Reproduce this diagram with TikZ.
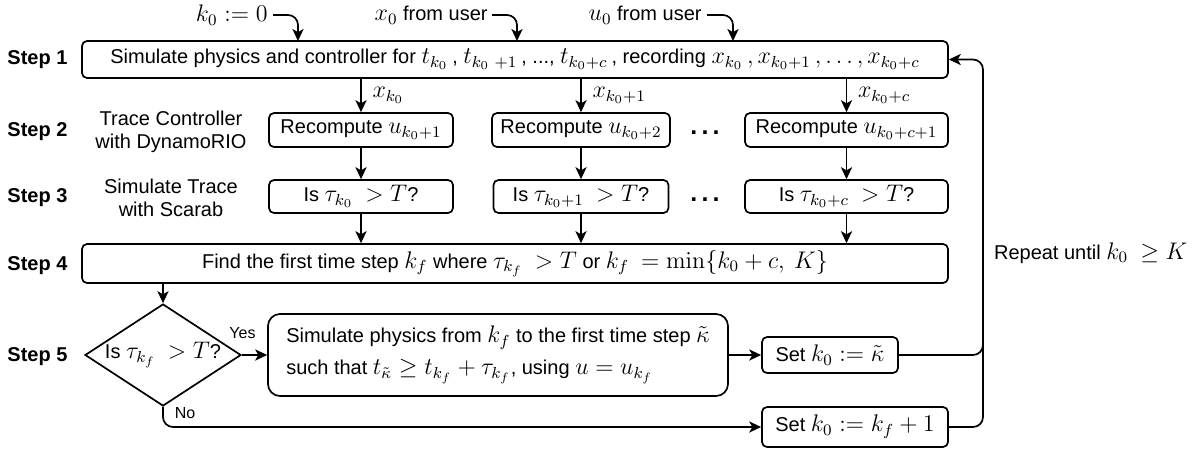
\documentclass[tikz,border=0pt]{standalone}
\usepackage[no-math]{fontspec}
\setmainfont{Liberation Sans}
\DeclareMathSizes{10}{12}{8.4}{6}
\usetikzlibrary{arrows.meta,shapes.geometric}
\begin{document}
\begin{tikzpicture}[x=0.5pt,y=-0.5pt,
  every node/.style={font=\fontsize{10}{12}\selectfont},
  box/.style={draw,line width=0.85pt,rounded corners=2.5pt,inner sep=1pt,align=center},
  arr/.style={-{Stealth[length=6pt,width=5.6pt,inset=1.6pt]},line width=0.85pt},
  link/.style={line width=0.85pt},
  stp/.style={font=\bfseries\fontsize{10}{12}\selectfont},
  side/.style={align=center,font=\fontsize{10}{11.5}\selectfont},
  dotsn/.style={font=\bfseries\fontsize{12.5}{12}\selectfont},
  small/.style={font=\fontsize{8}{10}\selectfont}]
\useasboundingbox (0,0) rectangle (1204,450);

% step labels
\node[stp] (l1) at (37.5,60) {Step 1};
\node[stp] (l2) at (37.5,132) {Step 2};
\node[stp] (l3) at (37.5,198) {Step 3};
\node[stp] (l4) at (37.5,266) {Step 4};
\node[stp] (l5) at (37.5,357) {Step 5};
\node[side] (d2) at (171,131.5) {Trace Controller\\with DynamoRIO};
\node[side] (d3) at (171,197.5) {Simulate Trace\\with Scarab};

% step 1
\node[box,minimum width=433pt,minimum height=18.5pt] (s1) at (515,59.5)
  {Simulate physics and controller for $t_{k_0}\,$, $t_{k_0\ +1}\,$, ..., $t_{k_0+c}\,$, recording $x_{k_0}\,, x_{k_0+1}\,, \ldots, x_{k_0+c}$};

% inputs
\node[anchor=east,inner sep=0pt] (kin) at (268,15) {$k_0 := 0$};
\node[anchor=east,inner sep=0pt] (xin) at (488,15) {$x_0$ from user};
\node[anchor=east,inner sep=0pt] (uin) at (702,15) {$u_0$ from user};
\coordinate (kt) at (298,41);
\coordinate (xt) at (517,41);
\coordinate (ut) at (733,41);
\draw[arr,rounded corners=5pt] ([xshift=2.5pt]kin.east) -| (kt);
\draw[arr,rounded corners=5pt] ([xshift=2pt]xin.east) -| (xt);
\draw[arr,rounded corners=5pt] ([xshift=2.5pt]uin.east) -| (ut);

% step 2
\node[box,minimum width=92pt,minimum height=17pt] (r1) at (361,130) {Recompute $u_{k_0+1}$};
\node[box,minimum width=89pt,minimum height=17pt] (r2) at (581,130) {Recompute $u_{k_0+2}$};
\node[box,minimum width=101.5pt,minimum height=17pt] (r3) at (846.5,130) {Recompute $u_{k_0+c+1}$};
\node[dotsn] (e2) at (705,133) {.\,.\,.};

% step 3
\node[box,minimum width=92pt,minimum height=16.5pt] (q1) at (361,196.5) {Is $\tau_{k_0}\ > T$?};
\node[box,minimum width=87.5pt,minimum height=16.5pt] (q2) at (581,196.5) {Is $\tau_{k_0+1}\ > T$?};
\node[box,minimum width=101.5pt,minimum height=16.5pt] (q3) at (846.5,196.5) {Is $\tau_{k_0+c}\ > T$?};
\node[dotsn] (e3) at (705,200) {.\,.\,.};

\draw[arr] (s1.south -| r1.north) -- (r1.north) node[midway,right=2pt] {$x_{k_0}$};
\draw[arr] (s1.south -| r2.north) -- (r2.north) node[midway,right=2pt] {$x_{k_0+1}$};
\draw[arr] (s1.south -| r3.north) -- (r3.north) node[midway,right=2pt] {$x_{k_0+c}$};
\draw[arr] (r1.south) -- (q1.north);
\draw[arr] (r2.south) -- (q2.north);
\draw[arr] (r3.south) -- (q3.north);

% step 4
\node[box,minimum width=433pt,minimum height=19.5pt] (s4) at (515,263.5)
  {Find the first time step $k_f$ where $\tau_{k_f}\ > T$ or $k_f\ = \min\{k_0+c,\ K\}$};
\draw[arr] (q1.south) -- (q1.south |- s4.north);
\draw[arr] (q2.south) -- (q2.south |- s4.north);
\draw[arr] (q3.south) -- (q3.south |- s4.north);

% step 5
\node[draw,line width=0.85pt,diamond,shape aspect=1.53,inner sep=0pt,minimum width=78pt,minimum height=51pt] (dia) at (163,355) {Is $\tau_{k_f}\ > T$?};
\draw[arr] (s4.south -| dia.north) -- (dia.north);
\node[box,rounded corners=6pt,minimum width=230pt,minimum height=41pt,align=left,inner sep=0pt,font=\fontsize{10}{16}\selectfont] (sim) at (498,355)
  {Simulate physics from $k_f$ to the first time step $\tilde\kappa$\\such that $t_{\tilde\kappa} \geq t_{k_f} + \tau_{k_f}$, using $u = u_{k_f}$};
\node[box,minimum width=68pt,minimum height=18pt] (set1) at (830,355) {Set $k_0 := \tilde\kappa$};
\node[box,minimum width=93pt,minimum height=20pt] (set2) at (855,427) {Set $k_0 := k_f + 1$};
\draw[arr] (dia.east) -- (sim.west);
\node[small] (yes) at (242.5,333) {Yes};
\draw[arr] (sim.east) -- (set1.west);
\draw[arr,rounded corners=5pt] (dia.south) |- (set2.west);
\node[small] (no) at (185,413) {No};

% loop back
\coordinate (lp) at (983,59.5);
\coordinate (j1) at (983,320);
\draw[arr,rounded corners=5pt] (set2.east) -| (lp) -- (s1.east);
\draw[link,rounded corners=5pt] (set1.east) -| (j1);
\node[anchor=west] (rep) at (987,253) {Repeat until $k_0\ \geq K$};
\end{tikzpicture}
\end{document}
